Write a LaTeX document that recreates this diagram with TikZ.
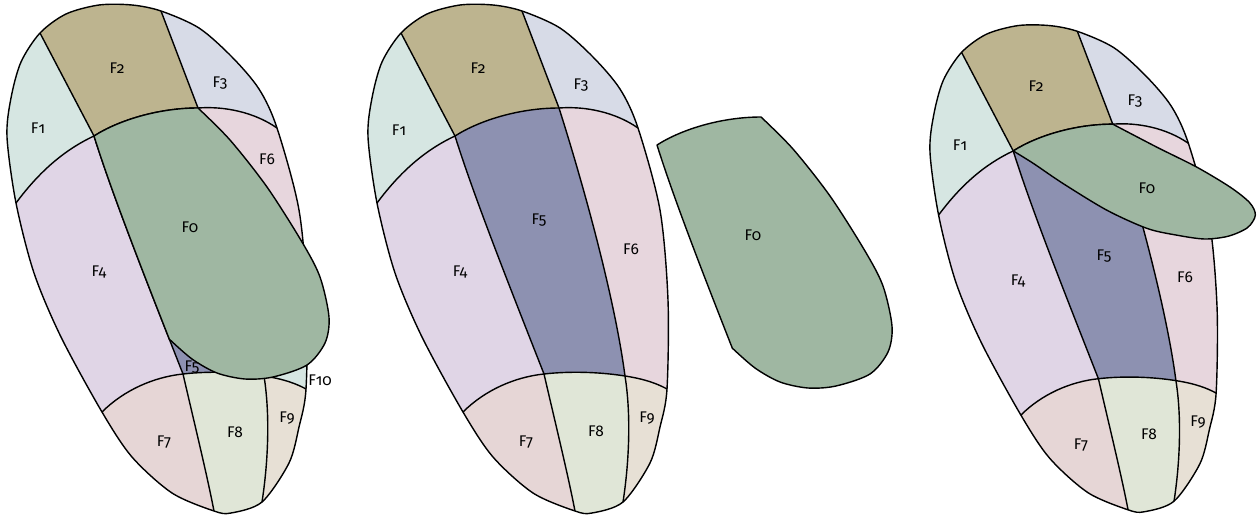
\documentclass[tikz,border=0pt]{standalone}
\usepackage{fontspec}
\setmainfont{Fira Sans}[Numbers=OldStyle]
\usepackage{tikz}

\definecolor{fzero}{HTML}{9FB7A2}
\definecolor{fone}{HTML}{D6E6E2}
\definecolor{ftwo}{HTML}{BDB48F}
\definecolor{fthree}{HTML}{D7DBE7}
\definecolor{ffour}{HTML}{E0D5E6}
\definecolor{ffive}{HTML}{8D91B1}
\definecolor{fsix}{HTML}{E7D6DD}
\definecolor{fseven}{HTML}{E6D6D6}
\definecolor{feight}{HTML}{E0E6D7}
\definecolor{fnine}{HTML}{E7E0D5}
\definecolor{ften}{HTML}{D6E6E2}

% the egg and its four cuts, in the coordinates of the middle copy
\newcommand{\ovalpath}{plot[smooth cycle] coordinates {(401,33) (427,14) (460,5) (493,5)
  (522,11) (560,28) (593,57) (620,89) (638,128) (660,210) (668,300) (667,389) (660,427)
  (650,463) (623,502) (592,513) (575,511) (533,493) (493,457) (463,412) (422,337)
  (395,273) (377,203) (368,137) (372,98) (382,62)}}
% west cut is split at (530.31,339.15), where the left F0 leaves it
\newcommand{\westcut}{(401,33) -- (455,136) .. controls (472,190.4) and (503.45,270.81) .. (530.31,339.15)
  .. controls (535.05,351.22) and (539.65,362.9) .. (544,374)
  .. controls (557,430) and (568,475) .. (575,511)}
\newcommand{\eastcut}{(522,11) -- (559,108) .. controls (585,190) and (615,300) .. (625,376)
  .. controls (632,420) and (628,470) .. (623,502)}
\newcommand{\northcut}{(377,203) .. controls (400,172) and (425,150) .. (455,136)
  .. controls (480,120) and (520,108) .. (559,108) .. controls (585,106) and (615,112) .. (638,128)}
\newcommand{\southcut}{(463,412) .. controls (485,390) and (515,377) .. (544,374)
  .. controls (570,371) and (600,372) .. (625,376) .. controls (645,379) and (658,384) .. (667,389)}

% half planes cut off by each curve
\newcommand{\westside}{(374,-20) -- \westcut -- (586,560) -- (300,560) -- (300,-20) -- cycle}
\newcommand{\eastside}{(507,-28) -- \eastcut -- (615,560) -- (720,560) -- (720,-28) -- cycle}
\newcommand{\northside}{(350,239) -- \northcut -- (690,164) -- (720,164) -- (720,-30) -- (300,-30) -- (300,239) -- cycle}
\newcommand{\southside}{(441,434) -- \southcut -- (703,409) -- (720,409) -- (720,560) -- (300,560) -- (300,434) -- cycle}

% F0: upright piece and flat piece
\newcommand{\blobup}{(455,136) .. controls (480,120) and (520,108) .. (559,108)
  -- plot[smooth] coordinates {(559,108) (591,140) (628,187) (663,242) (681,277) (690,317)
  (686,343) (668,365) (634,377) (606,379) (578,373) (553,359) (530.31,339.15)}
  .. controls (503.45,270.81) and (472,190.4) .. (455,136) -- cycle}
\newcommand{\blobflat}{(455,136) .. controls (480,120) and (520,108) .. (559,108)
  -- plot[smooth] coordinates {(559,108) (605,132) (647,153) (682,174) (702,190) (708,203)
  (700,216) (680,225) (655,228) (626,224) (595,217) (553,198) (507,170) (476,149) (455,136)}
  -- cycle}

% faces F1..F9, #1 is extra paint inside the east strip
\newcommand{\drawfaces}[1]{%
  \begin{scope}
    \clip \ovalpath;
    \fill[ffive] (300,-30) rectangle (720,560);
    \fill[ffour] \westside;
    \begin{scope}
      \clip \eastside;
      \fill[fsix] (300,-30) rectangle (720,560);
      #1
    \end{scope}
    \begin{scope}
      \clip \northside;
      \fill[ftwo] (300,-30) rectangle (720,560);
      \fill[fone] \westside;
      \fill[fthree] \eastside;
    \end{scope}
    \begin{scope}
      \clip \southside;
      \fill[feight] (300,-30) rectangle (720,560);
      \fill[fseven] \westside;
      \fill[fnine] \eastside;
    \end{scope}
  \end{scope}
  \draw[seam] \westcut;
  \draw[seam] \eastcut;
  \draw[seam] \northcut;
  \draw[seam] \southcut;
  \draw[seam] \ovalpath;
}

\begin{document}
\begin{tikzpicture}
  [x=0.02cm,y=-0.02cm,
   seam/.style={line width=0.8pt,line join=round},
   every node/.style={font=\fontsize{8.8}{10}\selectfont,inner sep=0pt}]

  \useasboundingbox (0,0) rectangle (1259,518);

  % left: F0 glued into the map
  \begin{scope}[shift={(-361,0)}]
    \drawfaces{\fill[ften] (600,300) rectangle (720,560);}
    \filldraw[seam,fill=fzero] \blobup;
  \end{scope}

  % middle: F0 taken out
  \drawfaces{}
  \begin{scope}[shift={(202,9)}]
    \filldraw[seam,fill=fzero] \blobup;
  \end{scope}

  % right: F0 laid back flat
  \begin{scope}[shift={(577.8,20.8)},scale=0.957]
    \drawfaces{}
    \filldraw[seam,fill=fzero] \blobflat;
  \end{scope}

  \node (f1a) at (38,128) {F1};
  \node (f2a) at (117,68) {F2};
  \node (f3a) at (220,83) {F3};
  \node (f6a) at (267,159) {F6};
  \node (f0a) at (190,227) {F0};
  \node (f4a) at (99,272) {F4};
  \node (f5a) at (192,367) {F5};
  \node (f10a) at (320,380) {F10};
  \node (f7a) at (164,442) {F7};
  \node (f8a) at (235,432) {F8};
  \node (f9a) at (287,418) {F9};

  \node (f1b) at (399,130) {F1};
  \node (f2b) at (478,68) {F2};
  \node (f3b) at (581,85) {F3};
  \node (f5b) at (539,220) {F5};
  \node (f6b) at (631,249) {F6};
  \node (f4b) at (460,272) {F4};
  \node (f7b) at (526,442) {F7};
  \node (f8b) at (596,431) {F8};
  \node (f9b) at (647,418) {F9};
  \node (f0b) at (753,235) {F0};

  \node (f1c) at (960,145) {F1};
  \node (f2c) at (1036,86) {F2};
  \node (f3c) at (1135,101) {F3};
  \node (f0c) at (1147,188) {F0};
  \node (f5c) at (1104,256) {F5};
  \node (f6c) at (1185,277) {F6};
  \node (f4c) at (1018,281) {F4};
  \node (f7c) at (1081,445) {F7};
  \node (f8c) at (1149,434) {F8};
  \node (f9c) at (1198,422) {F9};
\end{tikzpicture}
\end{document}
